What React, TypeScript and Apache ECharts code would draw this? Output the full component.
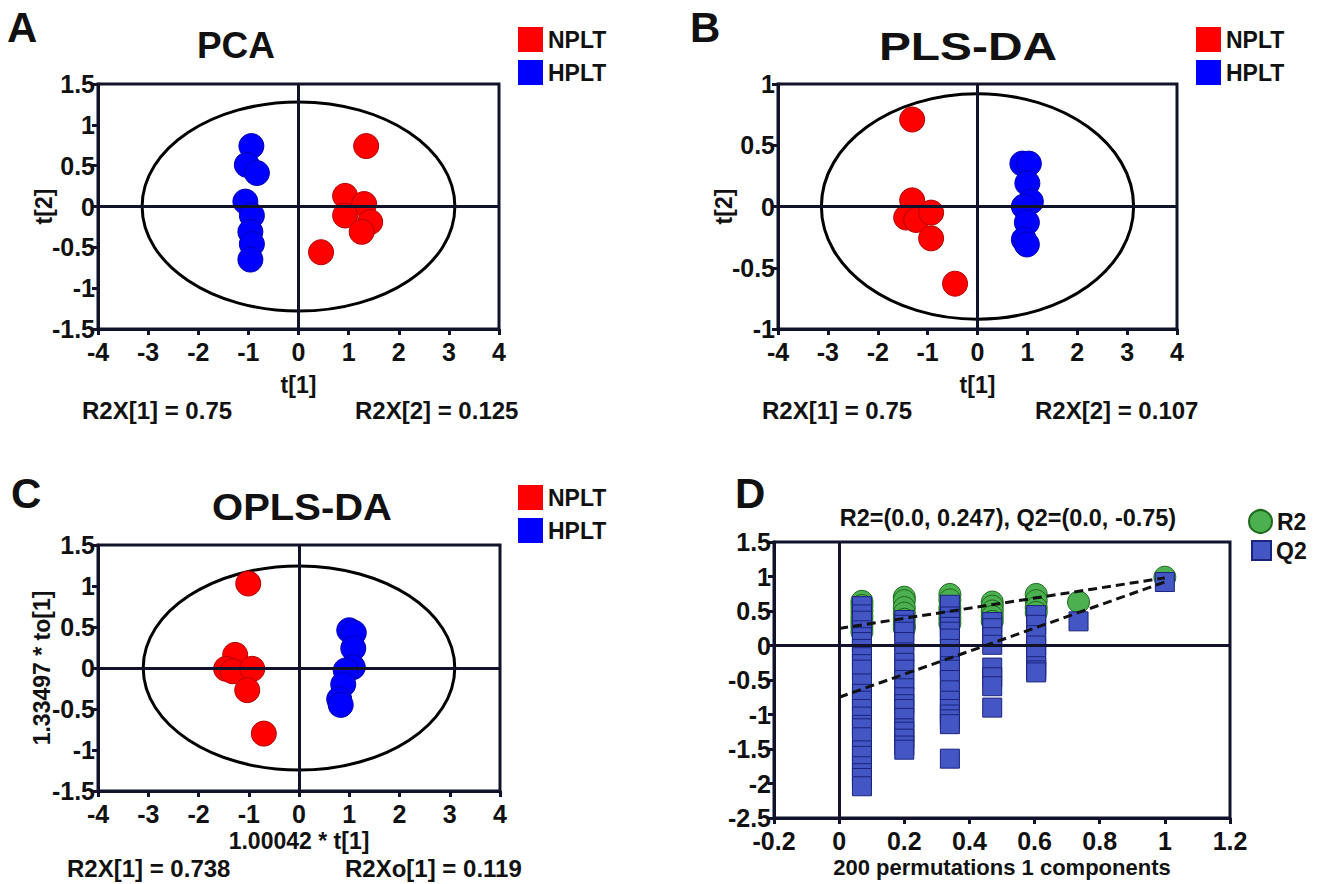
import React, { useEffect, useRef } from 'react';
import * as echarts from 'echarts';

// ---------- data ----------
const pcaNPLT = [[1.35, 0.74], [0.93, 0.13], [1.31, 0.03], [0.93, -0.11], [1.43, -0.19], [1.26, -0.31], [0.45, -0.56]];
const pcaHPLT = [[-0.94, 0.74], [-1.03, 0.51], [-0.83, 0.41], [-1.06, 0.06], [-0.93, -0.11], [-0.96, -0.31], [-0.93, -0.46], [-0.96, -0.65]];
const plsNPLT = [[-1.31, 0.71], [-1.31, 0.05], [-1.43, -0.09], [-1.23, -0.11], [-0.93, -0.05], [-0.93, -0.26], [-0.45, -0.63]];
const plsHPLT = [[0.9, 0.35], [1.03, 0.35], [1.0, 0.19], [1.07, 0.04], [0.93, 0.0], [0.99, -0.13], [0.93, -0.27], [0.99, -0.31]];
const oplsNPLT = [[-1.01, 1.03], [-1.27, 0.16], [-1.45, -0.01], [-1.32, -0.04], [-0.93, -0.01], [-1.03, -0.27], [-0.7, -0.8]];
const oplsHPLT = [[1.0, 0.46], [1.09, 0.43], [1.08, 0.24], [1.07, 0.01], [0.93, -0.03], [0.88, -0.2], [0.8, -0.38], [0.83, -0.45]];

// ellipse [centerX, centerY, radiusX, radiusY]
const pcaEllipse = [0, 0, 3.12, 1.28];
const plsEllipse = [0, 0, 3.13, 0.92];
const oplsEllipse = [0, 0, 3.1, 1.245];

// permutation test
const permX = [0.07, 0.2, 0.34, 0.47, 0.605, 0.735, 1.0];
const r2Columns = [
  [0.64, 0.58, 0.5, 0.42, 0.35, 0.28, 0.2],
  [0.7, 0.65, 0.55, 0.47, 0.38, 0.3, 0.25],
  [0.74, 0.66, 0.55, 0.48, 0.4, 0.32],
  [0.63, 0.57, 0.5, 0.42, 0.35],
  [0.74, 0.65, 0.55, 0.48],
  [0.63],
  [0.99],
];
const q2Columns = [
  [0.57, 0.45, 0.36, 0.22, 0.12, 0.05, -0.05, -0.17, -0.27, -0.35, -0.55, -0.7, -0.8, -0.92, -1.03, -1.15, -1.2, -1.33, -1.52, -1.6, -1.75, -1.85, -1.92, -2.04],
  [0.37, 0.3, 0.2, 0.05, -0.1, -0.25, -0.35, -0.5, -0.62, -0.75, -0.85, -0.92, -1.05, -1.2, -1.25, -1.35, -1.45, -1.51],
  [0.59, 0.42, 0.35, 0.27, 0.2, 0.1, -0.05, -0.15, -0.3, -0.35, -0.5, -0.65, -0.8, -0.92, -1.0, -1.07, -1.14, -1.64],
  [0.34, 0.25, 0.12, 0.01, -0.32, -0.46, -0.59, -0.9],
  [0.44, 0.3, 0.15, 0.0, -0.15, -0.3, -0.36, -0.39],
  [0.35],
  [0.92],
];
const r2Line = [[0, 0.247], [1, 0.98]];
const q2Line = [[0, -0.75], [1, 0.92]];

// ---------- styles ----------
const FONT = '"Liberation Sans", Arial, Helvetica, sans-serif';
const INK = '#12122a';

function valueAxis(gridIndex: number, min: number, max: number, interval: number, isX: boolean, name?: string, nameGap?: number, nameSize?: number) {
  return {
    type: 'value',
    gridIndex,
    min,
    max,
    interval,
    name: name || '',
    nameLocation: 'middle',
    nameGap: nameGap || 0,
    nameRotate: isX ? 0 : 90,
    nameMoveOverlap: false,
    nameTextStyle: { fontFamily: FONT, fontWeight: 'bold', fontSize: nameSize || 23, color: '#111' },
    axisLine: { show: true, onZero: false, lineStyle: { color: INK, width: 3 } },
    axisTick: { show: true, inside: false, length: 6, lineStyle: { color: INK, width: 3 } },
    splitLine: { show: false },
    axisLabel: {
      fontFamily: FONT,
      fontWeight: 'bold',
      fontSize: 25,
      color: '#111',
      margin: isX ? 10 : 3,
      hideOverlap: false,
    },
  };
}

function ellipseSeries(idx: number, e: number[]) {
  return {
    type: 'custom',
    xAxisIndex: idx,
    yAxisIndex: idx,
    z: 1,
    silent: true,
    data: [e],
    renderItem: (params: any, api: any) => {
      const c = api.coord([api.value(0), api.value(1)]);
      const s = api.size([api.value(2), api.value(3)]);
      return {
        type: 'ellipse',
        shape: { cx: c[0], cy: c[1], rx: s[0], ry: s[1] },
        style: { fill: 'none', stroke: '#000', lineWidth: 3 },
      };
    },
    markLine: {
      silent: true,
      symbol: ['none', 'none'],
      label: { show: false },
      lineStyle: { type: 'solid', color: INK, width: 3 },
      data: [{ xAxis: 0 }, { yAxis: 0 }],
    },
  };
}

function groupSeries(idx: number, name: string, data: number[][]) {
  const red = name === 'NPLT';
  return {
    type: 'scatter',
    name,
    xAxisIndex: idx,
    yAxisIndex: idx,
    z: 3,
    symbol: 'circle',
    symbolSize: 25,
    data,
    itemStyle: {
      color: red ? '#ff0000' : '#0000ff',
      borderColor: red ? '#b30000' : '#0000b0',
      borderWidth: 1,
      opacity: 1,
    },
  };
}

function groupLegend(left: number, top: number) {
  return {
    left,
    top,
    padding: 0,
    orient: 'vertical',
    itemWidth: 25,
    itemHeight: 25,
    itemGap: 8,
    icon: 'rect',
    data: ['NPLT', 'HPLT'],
    itemStyle: { borderWidth: 0 },
    textStyle: { fontFamily: FONT, fontWeight: 'bold', fontSize: 23, color: '#111' },
    selectedMode: false,
  };
}

function txt(text: string, x: number, y: number, size: number, align = 'left', scaleX = 1) {
  return {
    type: 'text',
    x,
    y,
    scaleX,
    silent: true,
    style: {
      text,
      fontFamily: FONT,
      fontWeight: 'bold',
      fontSize: size,
      fill: '#111',
      textAlign: align,
      textVerticalAlign: 'middle',
    },
  };
}

export default function App() {
  const ref = useRef<HTMLDivElement>(null);
  useEffect(() => {
    document.body.style.margin = '0';
    const chart = echarts.init(ref.current!, null, { renderer: 'svg' });

    const r2Data = permX.flatMap((x, i) => r2Columns[i].map((v) => [x, v]));
    const q2Data = permX.flatMap((x, i) => q2Columns[i].map((v) => [x, v]));

    const option = {
      animation: false,
      backgroundColor: '#fff',
      grid: [
        { left: 98, top: 84, width: 401, height: 245, show: true, borderColor: INK, borderWidth: 3, backgroundColor: 'transparent' },
        { left: 778, top: 84, width: 399, height: 245, show: true, borderColor: INK, borderWidth: 3, backgroundColor: 'transparent' },
        { left: 98, top: 545, width: 402, height: 246, show: true, borderColor: INK, borderWidth: 3, backgroundColor: 'transparent' },
        { left: 774, top: 542, width: 456, height: 276, show: true, borderColor: INK, borderWidth: 3, backgroundColor: 'transparent' },
      ],
      xAxis: [
        valueAxis(0, -4, 4, 1, true, 't[1]', 44),
        valueAxis(1, -4, 4, 1, true, 't[1]', 44),
        valueAxis(2, -4, 4, 1, true, '1.00042 * t[1]', 38),
        valueAxis(3, -0.2, 1.2, 0.2, true, '200 permutations 1 components', 38, 22),
      ],
      yAxis: [
        valueAxis(0, -1.5, 1.5, 0.5, false, 't[2]', 43),
        valueAxis(1, -1, 1, 0.5, false, 't[2]', 43),
        valueAxis(2, -1.5, 1.5, 0.5, false, '1.33497 * to[1]', 45),
        valueAxis(3, -2.5, 1.5, 0.5, false),
      ],
      legend: [
        groupLegend(518, 27),
        groupLegend(1196, 27),
        groupLegend(518, 485),
        {
          left: 1248, top: 509, padding: 0, itemWidth: 23, itemHeight: 23, selectedMode: false,
          data: [{ name: 'R2', icon: 'circle' }],
          textStyle: { fontFamily: FONT, fontWeight: 'bold', fontSize: 23, color: '#111' },
        },
        {
          left: 1251, top: 539, padding: 0, itemWidth: 19, itemHeight: 19, selectedMode: false,
          data: [{ name: 'Q2', icon: 'rect' }],
          textStyle: { fontFamily: FONT, fontWeight: 'bold', fontSize: 23, color: '#111' },
        },
      ],
      graphic: [
        txt('A', 7, 27, 42),
        txt('PCA', 236, 45, 37, 'center'),
        txt('B', 690, 27, 42),
        txt('PLS-DA', 968, 47, 38, 'center', 1.26),
        txt('C', 11, 493, 42),
        txt('OPLS-DA', 302, 507, 37, 'center', 1.08),
        txt('D', 735, 493, 42),
        txt('R2=(0.0, 0.247), Q2=(0.0, -0.75)', 1008, 518, 23, 'center', 1.02),
        txt('R2X[1] = 0.75', 82, 410, 24),
        txt('R2X[2] = 0.125', 355, 410, 24),
        txt('R2X[1] = 0.75', 762, 410, 24),
        txt('R2X[2] = 0.107', 1035, 410, 24),
        txt('R2X[1] = 0.738', 67, 868, 24),
        txt('R2Xo[1] = 0.119', 345, 868, 24),
      ],
      series: [
        ellipseSeries(0, pcaEllipse),
        groupSeries(0, 'NPLT', pcaNPLT),
        groupSeries(0, 'HPLT', pcaHPLT),
        ellipseSeries(1, plsEllipse),
        groupSeries(1, 'NPLT', plsNPLT),
        groupSeries(1, 'HPLT', plsHPLT),
        ellipseSeries(2, oplsEllipse),
        groupSeries(2, 'NPLT', oplsNPLT),
        groupSeries(2, 'HPLT', oplsHPLT),
        {
          type: 'line',
          xAxisIndex: 3,
          yAxisIndex: 3,
          z: 1,
          data: [],
          silent: true,
          markLine: {
            silent: true,
            symbol: ['none', 'none'],
            label: { show: false },
            lineStyle: { type: 'solid', color: INK, width: 3 },
            data: [{ xAxis: 0 }, { yAxis: 0 }],
          },
        },
        {
          type: 'scatter',
          name: 'R2',
          xAxisIndex: 3,
          yAxisIndex: 3,
          z: 3,
          symbol: 'circle',
          symbolSize: 22,
          data: r2Data,
          itemStyle: { color: '#4caf50', borderColor: '#1e6b1e', borderWidth: 1, opacity: 1 },
        },
        {
          type: 'scatter',
          name: 'Q2',
          xAxisIndex: 3,
          yAxisIndex: 3,
          z: 4,
          symbol: 'rect',
          symbolSize: 19,
          data: q2Data,
          itemStyle: { color: '#4356c4', borderColor: '#1a237e', borderWidth: 1, opacity: 1 },
        },
        {
          type: 'line',
          name: 'r2fit',
          xAxisIndex: 3,
          yAxisIndex: 3,
          z: 5,
          symbol: 'none',
          silent: true,
          data: r2Line,
          lineStyle: { color: '#111', width: 3, type: [9, 5] },
        },
        {
          type: 'line',
          name: 'q2fit',
          xAxisIndex: 3,
          yAxisIndex: 3,
          z: 5,
          symbol: 'none',
          silent: true,
          data: q2Line,
          lineStyle: { color: '#111', width: 3, type: [9, 5] },
        },
      ],
    };
    chart.setOption(option as any);
    return () => chart.dispose();
  }, []);
  return <div ref={ref} style={{ width: 1320, height: 884 }} />;
}
